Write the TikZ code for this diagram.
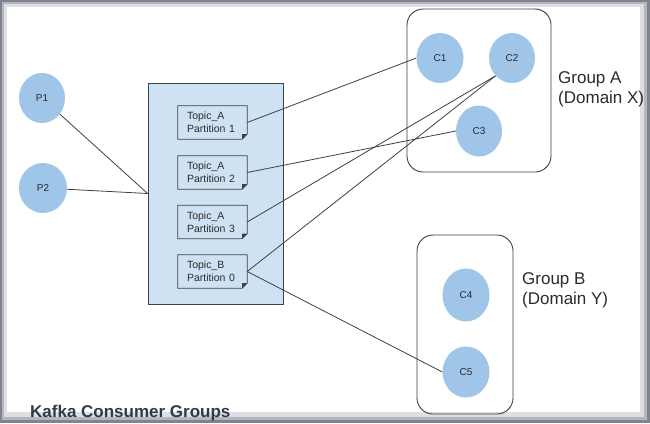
\documentclass[tikz,border=0pt]{standalone}
\usepackage{fontspec}
\setmainfont{Liberation Sans}
\usetikzlibrary{shapes.geometric,calc}
\definecolor{cons}{HTML}{9FC5E8}
\definecolor{topicbg}{HTML}{CFE2F3}
\definecolor{edge}{HTML}{404040}
\definecolor{txt}{HTML}{2B2B2B}
\definecolor{titlecol}{HTML}{2E3B48}
\definecolor{frameA}{HTML}{7E858E}
\definecolor{frameB}{HTML}{B4B8BE}
\definecolor{frameC}{HTML}{DDDFE2}
\begin{document}
\begin{tikzpicture}[x=1pt,y=-1pt,
  consumer/.style={ellipse, fill=cons, minimum width=47pt, minimum height=50pt, inner sep=0pt, font=\fontsize{10}{12}\selectfont, text=txt},
  partbox/.style={minimum width=69pt, minimum height=33pt, text width=51pt, inner xsep=9pt, inner ysep=0pt, align=left, font=\fontsize{10.5}{13}\selectfont, text=txt},
  link/.style={draw=edge, line width=0.8pt},
  group/.style={draw=edge, line width=0.9pt, rounded corners=16pt, inner sep=0pt},
  grouplabel/.style={anchor=west, inner sep=0pt, align=left, font=\fontsize{17}{20}\selectfont, text=txt}]
\useasboundingbox (0,0) rectangle (650,423);
% screenshot frame
\fill[frameA] (0,0) rectangle (650,423);
\fill[frameB] (2,2) rectangle (647,420);
\fill[frameC] (4,4) rectangle (644,417);
\fill[white] (7,7) rectangle (640,412);

% topic container
\node[draw=edge, fill=topicbg, line width=0.8pt, minimum width=135pt, minimum height=221pt, inner sep=0pt] (topics) at (215.5,193.5) {};

% partitions
\node[partbox] (pa1) at (212.5,122.5) {Topic\_A\\Partition 1};
\node[partbox] (pa2) at (212.5,172.5) {Topic\_A\\Partition 2};
\node[partbox] (pa3) at (212.5,222) {Topic\_A\\Partition 3};
\node[partbox] (pb0) at (212.5,271.5) {Topic\_B\\Partition 0};
\foreach \n in {pa1,pa2,pa3,pb0}{
  \draw[edge, line width=0.8pt] (\n.north west) -- (\n.north east) -- ([yshift=5pt]\n.south east) -- ([xshift=-5pt]\n.south east) -- (\n.south west) -- cycle;
  \fill[edge] ([yshift=5pt]\n.south east) -- ([xshift=-5pt,yshift=5pt]\n.south east) -- ([xshift=-5pt]\n.south east) -- cycle;
}

% groups
\node[group, minimum width=144pt, minimum height=163pt] (groupA) at (479,90.5) {};
\node[group, minimum width=96pt, minimum height=179pt] (groupB) at (465,324.5) {};
\node[grouplabel] (labelA) at (558,89) {Group A\\(Domain X)};
\node[grouplabel] (labelB) at (522,290) {Group B\\(Domain Y)};

% producers and consumers
\node[consumer, minimum width=46pt] (P1) at (42,98) {P1};
\node[consumer, minimum width=48pt] (P2) at (43,188) {P2};
\node[consumer] (C1) at (440,58) {C1};
\node[consumer, minimum width=46pt] (C2) at (512,58) {C2};
\node[consumer, minimum width=46pt, minimum height=51pt] (C3) at (479,131) {C3};
\node[consumer, minimum height=53pt] (C4) at (466,295) {C4};
\node[consumer, minimum height=51pt] (C5) at (466,372) {C5};

% connectors
\draw[link] (P1) -- (topics.west);
\draw[link] (P2) -- (topics.west);
\draw[link] (pa1.east) -- (C1.west);
\draw[link] (pa2.east) -- (C3.west);
\draw[link] (pa3.east) -- (C2.south west);
\draw[link] (pb0.east) -- (C2.south west);
\draw[link] (pb0.east) -- (C5.west);

% title
\node[anchor=base west, inner sep=0pt, font=\bfseries\fontsize{17}{19}\selectfont, text=titlecol] (title) at (30,417) {Kafka Consumer Groups};
\end{tikzpicture}
\end{document}
